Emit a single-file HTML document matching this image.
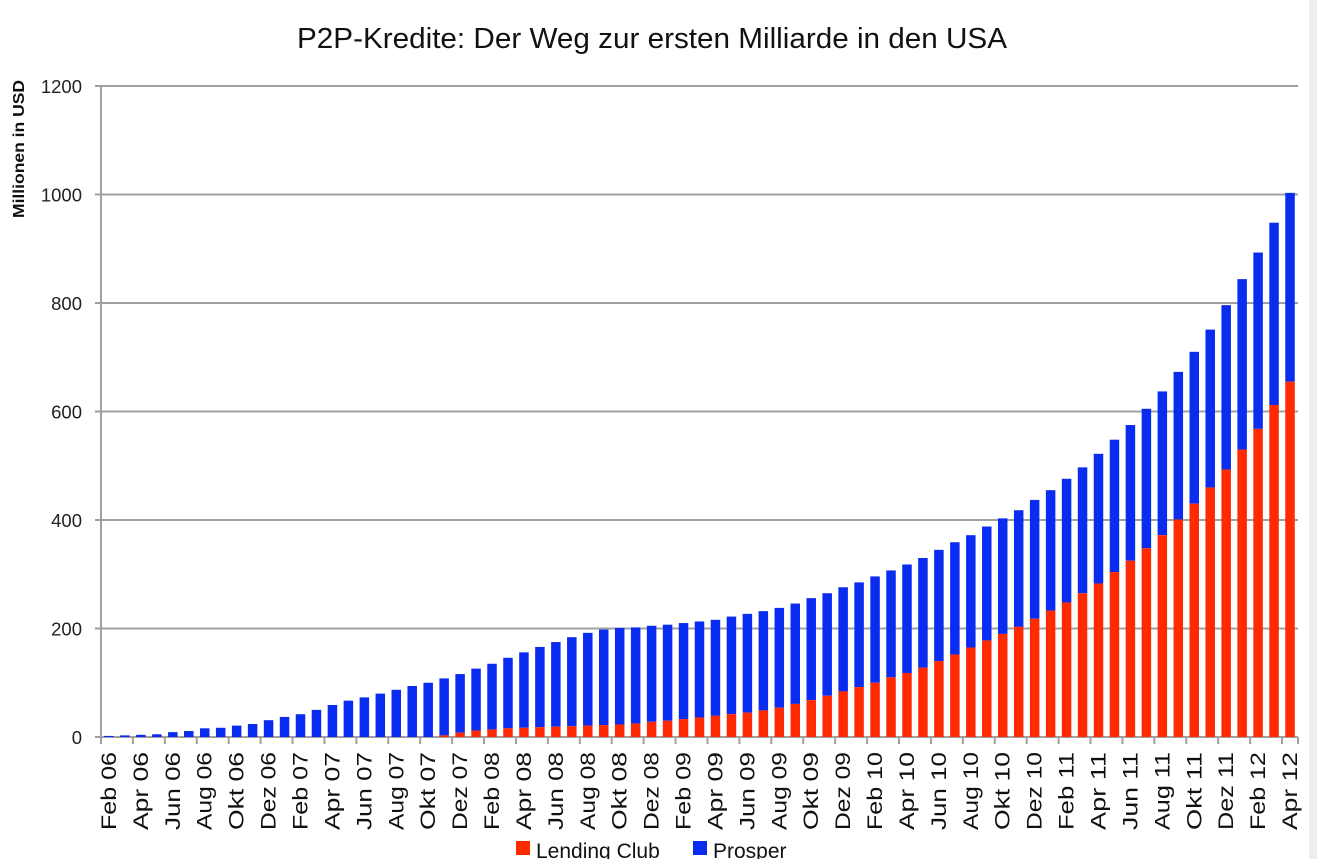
<!DOCTYPE html>
<html><head><meta charset="utf-8"><style>
body{margin:0;background:#fff;width:1317px;height:859px;overflow:hidden;font-family:"Liberation Sans",sans-serif}
</style></head><body>
<svg id="chart" width="1317" height="859" xmlns="http://www.w3.org/2000/svg">
<rect x="1309" y="0" width="8" height="859" fill="#eeeeee"/>
<text x="652" y="48" text-anchor="middle" font-size="29" fill="#111" textLength="710" lengthAdjust="spacingAndGlyphs">P2P-Kredite: Der Weg zur ersten Milliarde in den USA</text>
<text transform="translate(24,149) rotate(-90)" text-anchor="middle" font-size="16" font-weight="bold" fill="#111" textLength="138" lengthAdjust="spacingAndGlyphs">Millionen in USD</text>
<g id="grid"></g><g id="bars"></g><g id="axes"></g>
<g>
<rect x="516" y="841" width="14" height="14" fill="#ff2a00"/>
<text x="536" y="858" font-size="21" fill="#111">Lending Club</text>
<rect x="693" y="841" width="14" height="14" fill="#0a2cf0"/>
<text x="713" y="858" font-size="21" fill="#111">Prosper</text>
</g>
</svg>
<script>
const months=["Jan","Feb","Mar","Apr","Mai","Jun","Jul","Aug","Sep","Okt","Nov","Dez"];
const categories=[];
for(let i=0;i<75;i++){const m=(1+i)%12;const y=6+Math.floor((1+i)/12);categories.push(months[m]+" "+String(y).padStart(2,"0"));}
const totals=[2,3,4,5,9,11,16,17,21,24,31,37,42,50,59,67,73,80,87,94,100,108,116,126,135,146,156,166,175,184,192,198,201,202,205,207,210,213,216,222,227,232,238,246,256,265,276,285,296,307,318,330,345,359,372,388,403,418,437,455,476,497,522,548,575,605,637,673,710,751,796,844,893,948,1003];
const lendingClub=[0,0,0,0,0,0,0,0,0,0,0,0,0,0,0,0,0,0,0,0,0,0,3,8,12,14,16,17,18,19,20,21,22,23,25,28,30,33,36,39,42,45,49,54,61,68,76,84,92,100,110,118,128,140,152,165,178,190,203,218,233,248,265,283,304,325,348,372,401,430,460,493,530,568,612,655].slice(1);
const yTicks=[0,200,400,600,800,1000,1200];
const NS="http://www.w3.org/2000/svg";
const x0=101,x1=1298,y0=737,yTop=86;
const band=(x1-x0)/categories.length;
function yScale(v){return y0-(v/1200)*(y0-yTop);}
function xScale(i){return x0+band*i+band/2;}
function mk(tag,attrs,parent){const e=document.createElementNS(NS,tag);for(const k in attrs)e.setAttribute(k,attrs[k]);parent.appendChild(e);return e;}
const grid=document.getElementById("grid"),bars=document.getElementById("bars"),axes=document.getElementById("axes");
yTicks.forEach(t=>{
 const y=yScale(t);
 const l=mk("line",{x1:95,x2:x1,y1:y,y2:y,stroke:"#a0a0a0","stroke-width":2},grid);
 
 
 const tx=mk("text",{x:82,y:y+7,"text-anchor":"end","font-size":18.5,fill:"#222"},axes);
 tx.textContent=t;
 
 
});
const ax=mk("line",{x1:x0,x2:x0,y1:yTop,y2:y0,stroke:"#a0a0a0","stroke-width":2},axes);


const bw=9.5;
categories.forEach((c,i)=>{
 const cx=xScale(i);
 const lc=lendingClub[i],tot=totals[i];
 const b=mk("rect",{x:cx-bw/2,y:yScale(tot),width:bw,height:yScale(lc)-yScale(tot),fill:"#0a2cf0"},bars);
 
 
 if(lc>0){
  const r=mk("rect",{x:cx-bw/2,y:yScale(lc),width:bw,height:y0-yScale(lc),fill:"#ff2a00"},bars);
  
  
 }
 if(i%2===0){
  const tk=mk("line",{x1:x0+band*i,x2:x0+band*i,y1:y0,y2:y0+7,stroke:"#a0a0a0","stroke-width":2},axes);
  
  
  const t=mk("text",{transform:`translate(${cx+7},${y0+15}) rotate(-90)`,"text-anchor":"end","font-size":21,fill:"#111",textLength:78,lengthAdjust:"spacingAndGlyphs"},axes);
  t.textContent=c;
  
  
 }
});
const tkEnd=mk("line",{x1:x1,x2:x1,y1:y0,y2:y0+7,stroke:"#a0a0a0","stroke-width":2},axes);


</script>
</body></html>
